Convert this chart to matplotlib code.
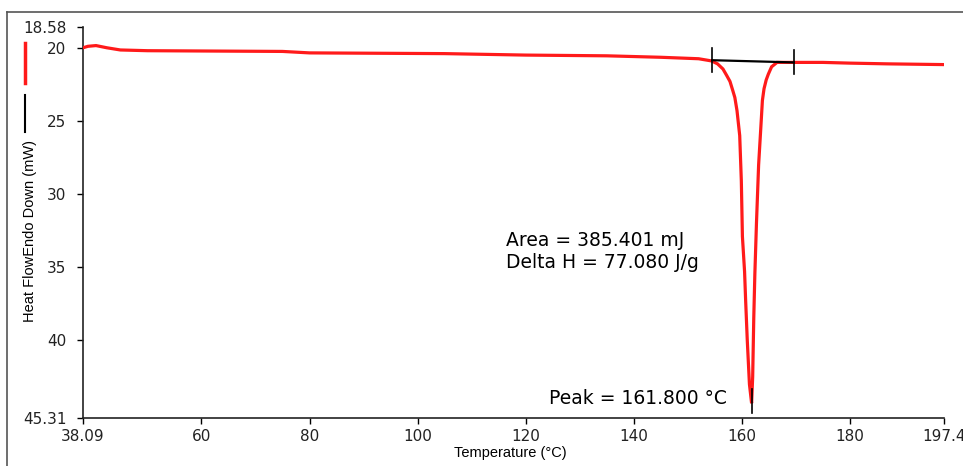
import matplotlib
matplotlib.use("Agg")
import matplotlib.pyplot as plt
from matplotlib.lines import Line2D

plt.rcParams['font.family'] = ['DejaVu Sans']

# DSC curve (temperature °C, heat flow mW)
temp = [38.09, 39.0, 40.5, 42.5, 45.0, 50.0, 75.0, 80.0, 105.0, 120.0, 135.0, 145.0,
        152.0, 154.4, 155.5, 156.5, 157.2, 157.8, 158.3, 158.7, 159.1, 159.6, 159.9,
        160.1, 160.5, 160.7, 161.0, 161.4, 161.8, 162.0, 162.2, 162.4, 162.7, 163.1,
        163.5, 163.8, 164.1, 164.5, 164.9, 165.5, 166.5, 168.0, 175.0, 180.0, 187.0, 197.4]
heat = [20.0, 19.9, 19.85, 20.0, 20.15, 20.2, 20.25, 20.35, 20.4, 20.5, 20.55, 20.65,
        20.75, 20.9, 21.1, 21.45, 21.9, 22.3, 22.9, 23.4, 24.3, 26.0, 29.1,
        32.9, 35.3, 37.3, 40.0, 43.0, 44.3, 42.5, 38.5, 35.5, 32.0, 28.0,
        25.5, 23.6, 22.8, 22.2, 21.8, 21.3, 21.0, 21.0, 21.0, 21.05, 21.1, 21.15]

# integration baseline and peak marker
base_t = [154.5, 169.6]
base_h = [20.85, 21.0]
peak_t = 161.8
peak_span = [43.3, 45.0]

xticks = [38.09, 60, 80, 100, 120, 140, 160, 180, 197.4]
xticklabels = ['38.09', '60', '80', '100', '120', '140', '160', '180', '197.4']
yticks = [18.58, 20, 25, 30, 35, 40, 45.31]
yticklabels = ['18.58', '20', '25', '30', '35', '40', '45.31']

fig = plt.figure(figsize=(9.63, 4.66), dpi=100)
ax = fig.add_axes([83/963, 1-418/466, (944-83)/963, (418-27)/466])

ax.plot(temp, heat, color='#ff1a1a', lw=2.3, solid_joinstyle='miter', zorder=3)
ax.plot(base_t, base_h, color='black', lw=1.6, zorder=4)
for t, h in zip(base_t, base_h):
    ax.plot([t, t], [h - 0.85, h + 0.8], color='black', lw=1.2, zorder=4)
ax.plot([peak_t, peak_t], peak_span, color='black', lw=1.2, zorder=4)

ax.set_xlim(38.09, 197.4)
ax.set_ylim(45.31, 18.58)
ax.set_xticks(xticks)
ax.set_xticklabels(xticklabels)
ax.set_yticks(yticks)
ax.set_yticklabels(yticklabels)
ax.tick_params(axis='both', labelsize=11, direction='out', length=4, width=1,
               color='black', labelcolor='#222222')
ax.tick_params(axis='y', pad=8)
ax.tick_params(axis='x', pad=4)
for s in ['top', 'right']:
    ax.spines[s].set_visible(False)
for s in ['left', 'bottom']:
    ax.spines[s].set_linewidth(1.2)
    ax.spines[s].set_color('#222222')

ax.text(116.4, 33.2, 'Area = 385.401 mJ', fontsize=13.5, va='center', ha='left')
ax.text(116.4, 34.65, 'Delta H = 77.080 J/g', fontsize=13.5, va='center', ha='left')
ax.text(124.4, 44.0, 'Peak = 161.800 °C', fontsize=13.5, va='center', ha='left')

fig.text(510/963, 1-453/466, 'Temperature (°C)', fontsize=10.5, ha='center', va='center',
         family='Liberation Sans')
fig.text(30/963, 1-231/466, 'Heat FlowEndo Down (mW)', fontsize=10.5, rotation=90,
         ha='center', va='center', family='Liberation Sans')

# legend swatches
fig.add_artist(Line2D([25/963, 25/963], [1-43/466, 1-83/466], color='#ff1a1a', lw=2.5))
fig.add_artist(Line2D([25/963, 25/963], [1-95/466, 1-132/466], color='black', lw=1.5))

# outer frame
fig.add_artist(Line2D([7/963, 7/963], [1-12/466, 0], color='#555555', lw=1.2))
fig.add_artist(Line2D([7/963, 1], [1-12/466, 1-12/466], color='#555555', lw=1.2))

fig.savefig('out.png', dpi=100)
